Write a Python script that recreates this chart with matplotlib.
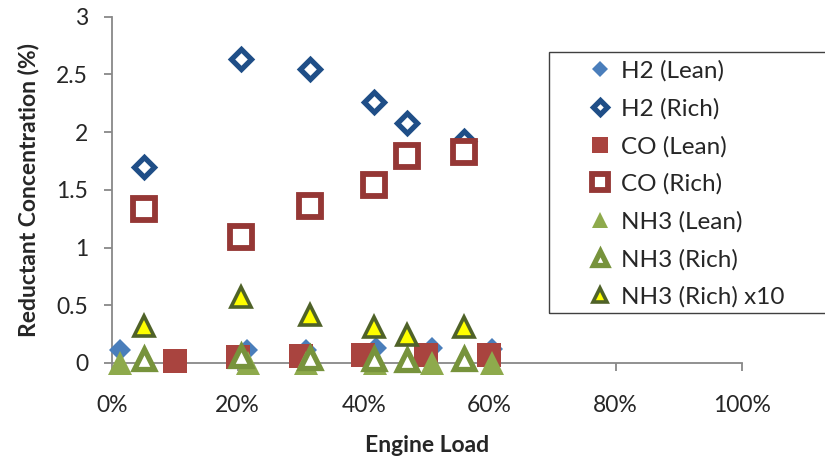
import matplotlib
matplotlib.use("Agg")
import matplotlib.pyplot as plt
from matplotlib.patches import Rectangle
from matplotlib.ticker import FuncFormatter, MultipleLocator

plt.rcParams['font.family'] = ['Lato', 'DejaVu Sans']

# engine load (%) for lean and rich operation
load_h2_lean = [1.3, 21.4, 30.9, 42.0, 50.8, 60.4]
load_co_lean = [10.1, 20.1, 30.0, 39.9, 49.9, 59.9]
load_nh3_lean = [1.3, 21.6, 30.9, 41.8, 50.8, 60.3]
load_rich = [5.1, 20.6, 31.4, 41.6, 46.8, 56.0]

# reductant concentrations (%)
h2_lean = [0.11, 0.11, 0.11, 0.13, 0.13, 0.12]
h2_rich = [1.70, 2.63, 2.55, 2.26, 2.08, 1.92]
co_lean = [0.02, 0.05, 0.06, 0.07, 0.07, 0.07]
co_rich = [1.33, 1.09, 1.36, 1.54, 1.79, 1.83]
nh3_lean = [0.0, 0.0, 0.0, 0.0, 0.0, 0.0]
nh3_rich = [0.032, 0.057, 0.042, 0.031, 0.024, 0.031]
nh3_rich_x10 = [v * 10 for v in nh3_rich]

fig = plt.figure(figsize=(8.25, 4.71), dpi=100)
ax = fig.add_axes([0.1354, 0.2293, 0.7636, 0.7352])

styles = dict(ls='none', clip_on=False, zorder=3)
ax.plot(load_h2_lean, h2_lean, marker='D', ms=11.5, mfc='#4a7ebb', mec='#4a7ebb',
        mew=0, label='H2 (Lean)', **styles)
ax.plot(load_rich, h2_rich, marker='D', ms=10.5, mfc='white', mec='#1f4e87',
        mew=3.8, label='H2 (Rich)', **styles)
ax.plot(load_co_lean, co_lean, marker='s', ms=17, mfc='#a9443f', mec='#a9443f',
        mew=0, label='CO (Lean)', **styles)
ax.plot(load_rich, co_rich, marker='s', ms=15.5, mfc='white', mec='#953735',
        mew=4.2, label='CO (Rich)', **styles)
ax.plot(load_nh3_lean, nh3_lean, marker='^', ms=17, mfc='#8eaa4c', mec='#8eaa4c',
        mew=0, label='NH3 (Lean)', **styles)
ax.plot(load_rich, nh3_rich, marker='^', ms=15, mfc='white', mec='#77933c',
        mew=3.8, label='NH3 (Rich)', **styles)
ax.plot(load_rich, nh3_rich_x10, marker='^', ms=15, mfc='#ffff00', mec='#4f6228',
        mew=2.6, label='NH3 (Rich) x10', **styles)

ax.set_xlim(0, 100)
ax.set_ylim(0, 3)
ax.xaxis.set_major_locator(MultipleLocator(20))
ax.yaxis.set_major_locator(MultipleLocator(0.5))
ax.xaxis.set_major_formatter(FuncFormatter(lambda v, p: f"{v:.0f}%"))
ax.yaxis.set_major_formatter(FuncFormatter(lambda v, p: f"{v:g}"))

for side in ['top', 'right']:
    ax.spines[side].set_visible(False)
for side in ['left', 'bottom']:
    ax.spines[side].set_color('#888888')
    ax.spines[side].set_linewidth(1.3)
    ax.spines[side].set_zorder(2)
ax.tick_params(axis='both', colors='#888888', labelcolor='#262626', labelsize=16.5,
               length=6, width=1.3, direction='out')
ax.tick_params(axis='x', pad=17)
ax.tick_params(axis='y', pad=11)

ax.set_xlabel('Engine Load', fontsize=16.5, fontweight='bold', color='#262626', labelpad=14)
ax.set_ylabel('Reductant Concentration (%)', fontsize=16.5, fontweight='bold', color='#262626',
              labelpad=12)

leg = ax.legend(loc='upper left', bbox_to_anchor=(581 / 825, 1 - 53 / 471),
                bbox_transform=fig.transFigure, frameon=False, fontsize=17.5,
                markerscale=0.7, handlelength=1.0, handletextpad=0.35,
                labelspacing=0.665, borderaxespad=0, borderpad=0.3)
for t in leg.get_texts():
    t.set_color('#262626')

fig.add_artist(Rectangle((549 / 825, 1 - 313 / 471), 0.4, (313 - 52) / 471,
                         transform=fig.transFigure, fill=False, ec='#404040', lw=1.0,
                         clip_on=False))

fig.savefig('out.png', dpi=100)
